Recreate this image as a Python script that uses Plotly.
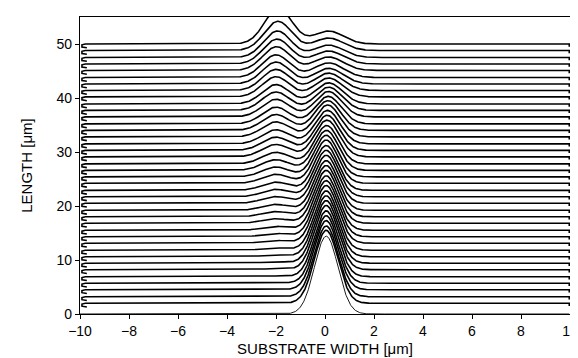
import numpy as np
import plotly.graph_objects as go

# Baseline (propagation length) of each profile, in µm
Z = [0.0, 2.0, 3.2, 4.5, 5.7, 6.9, 8.2, 9.4, 10.6, 11.8, 13.1, 14.3, 15.5, 16.8, 18.0,
     19.2, 20.5, 21.7, 22.9, 24.2, 25.4, 26.6, 27.8, 29.1, 30.3, 31.5, 32.8, 34.0,
     35.2, 36.5, 37.7, 38.9, 40.2, 41.4, 42.6, 43.8, 45.1, 46.3, 47.5, 48.8, 50.0]

# Peak height of the field in the input guide (near x = 0)
A0 = [14.4, 13.5, 13.1, 12.8, 12.5, 12.2, 11.9, 11.6, 11.3, 11.0, 10.7, 10.4, 10.1,
      9.8, 9.5, 9.2, 8.9, 8.6, 8.3, 8.0, 7.7, 7.4, 7.1, 6.8, 6.5, 6.2, 5.9, 5.5,
      5.1, 4.7, 4.3, 3.9, 3.5, 3.2, 2.9, 2.7, 2.5, 2.4, 2.3, 2.3, 2.4]
# Centre of that peak
C0 = [0.05, 0.05, 0.05, 0.05, 0.05, 0.05, 0.05, 0.05, 0.05, 0.05, 0.05, 0.05, 0.05,
      0.05, 0.05, 0.05, 0.05, 0.05, 0.05, 0.05, 0.05, 0.06, 0.07, 0.08, 0.09, 0.10,
      0.11, 0.12, 0.13, 0.14, 0.15, 0.15, 0.15, 0.15, 0.15, 0.15, 0.15, 0.15, 0.15,
      0.15, 0.15]
# Width of that peak
S0 = [0.48, 0.48, 0.48, 0.48, 0.48, 0.48, 0.48, 0.48, 0.48, 0.48, 0.48, 0.48, 0.48,
      0.48, 0.48, 0.48, 0.48, 0.48, 0.48, 0.48, 0.48, 0.49, 0.49, 0.50, 0.50, 0.51,
      0.51, 0.52, 0.53, 0.54, 0.55, 0.56, 0.57, 0.58, 0.59, 0.60, 0.60, 0.60, 0.60,
      0.60, 0.60]

# Peak height of the field coupled into the neighbouring guide (near x = -2)
A2 = [0.0, 0.0, 0.03, 0.06, 0.10, 0.14, 0.20, 0.27, 0.34, 0.42, 0.52, 0.62, 0.73,
      0.85, 0.97, 1.10, 1.24, 1.38, 1.52, 1.67, 1.82, 1.98, 2.14, 2.30, 2.46, 2.62,
      2.78, 2.94, 3.10, 3.26, 3.42, 3.58, 3.74, 3.90, 4.05, 4.20, 4.40, 4.60, 4.90,
      5.40, 6.60]
C2 = [-2.0] * 36 + [-1.98, -1.96, -1.94, -1.92, -1.9]
S2 = [0.56] * 41

X_TICKS = [-10, -8, -6, -4, -2, 0, 2, 4, 6, 8, 10]
Y_TICKS = [0, 10, 20, 30, 40, 50]

x = np.linspace(-9.85, 9.97, 900)

fig = go.Figure()
n = len(Z)
for i in reversed(range(n)):
    z = Z[i]
    prof = (A0[i] * np.exp(-(x - C0[i]) ** 2 / (2 * S0[i] ** 2))
            + A2[i] * np.exp(-(x - C2[i]) ** 2 / (2 * S2[i] ** 2)))
    y = z + prof
    if i > 0:
        xs = np.concatenate([[-9.72, -9.92, -9.92], x, [9.97]])
        ys = np.concatenate([[z - 0.7, z - 0.55, z - 0.15], y, [z - 0.5]])
        w = 1.6
    else:
        xs = np.concatenate([[-10.0], x])
        ys = np.concatenate([[0.0], y])
        w = 0.9
    fig.add_trace(go.Scatter(
        x=xs, y=ys, mode="lines",
        line=dict(color="black", width=w),
        fill="toself", fillcolor="white",
        hoverinfo="skip", showlegend=False,
    ))

tick_font = dict(family="Liberation Sans, Arial, sans-serif", size=14, color="black")
title_font = dict(family="Liberation Sans, Arial, sans-serif", size=15, color="black")
axis_common = dict(
    showline=True, linecolor="black", linewidth=1.2, mirror=True,
    ticks="outside", ticklen=4, tickcolor="black", tickwidth=1,
    showgrid=False, zeroline=False, tickfont=tick_font,
)
fig.update_layout(
    width=578, height=358,
    margin=dict(l=72, r=10, t=8, b=52),
    paper_bgcolor="white", plot_bgcolor="white",
    font=tick_font,
    xaxis=dict(range=[-10, 10], tickvals=X_TICKS,
               title=dict(text="SUBSTRATE WIDTH [μm]", font=title_font, standoff=5),
               **axis_common),
    yaxis=dict(range=[0, 55], tickvals=Y_TICKS,
               title=dict(text="LENGTH [μm]", font=title_font, standoff=20),
               **axis_common),
)

fig.write_html("out.html")
